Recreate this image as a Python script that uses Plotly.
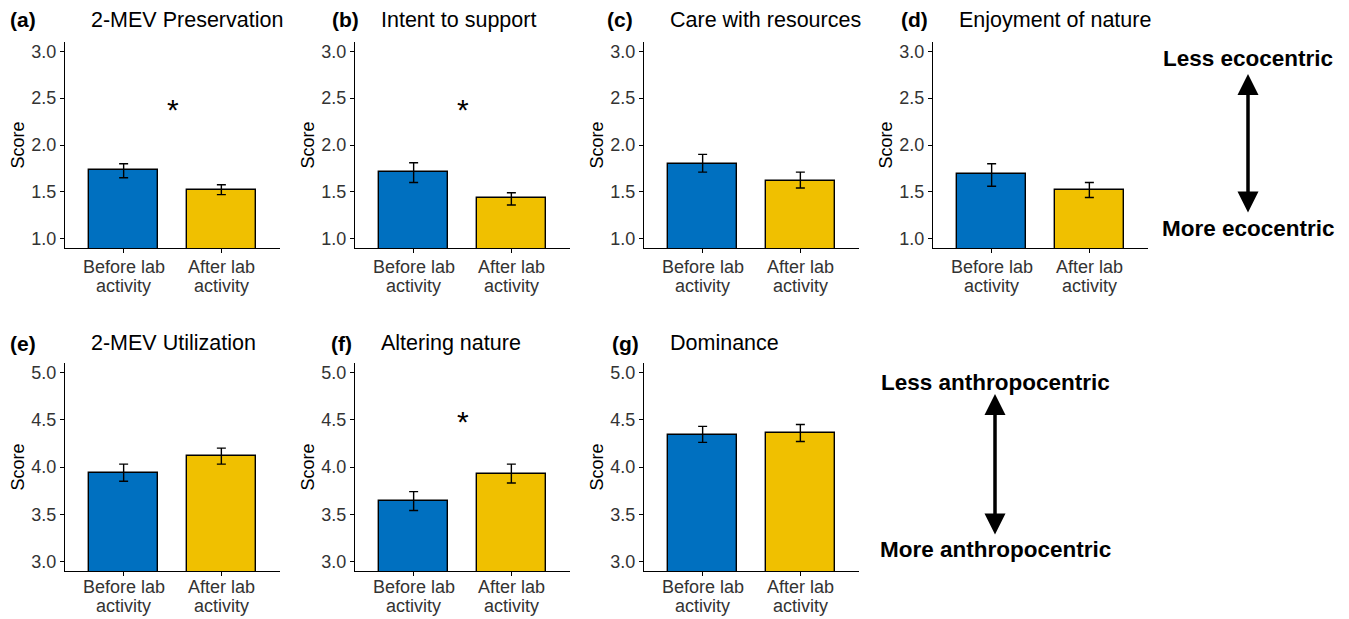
import plotly.graph_objects as go

W, H = 1349, 619

# ---------------- data ----------------
categories = [["Before lab", "activity"], ["After lab", "activity"]]
panel_tags = ["(a)", "(b)", "(c)", "(d)", "(e)", "(f)", "(g)"]
panel_titles = ["2-MEV Preservation", "Intent to support", "Care with resources",
                "Enjoyment of nature", "2-MEV Utilization", "Altering nature", "Dominance"]
before_means = [1.73, 1.71, 1.80, 1.69, 3.94, 3.64, 4.34]
before_upper = [1.80, 1.81, 1.90, 1.80, 4.03, 3.74, 4.43]
before_lower = [1.65, 1.60, 1.71, 1.56, 3.85, 3.54, 4.26]
after_means = [1.52, 1.43, 1.62, 1.52, 4.12, 3.93, 4.36]
after_upper = [1.575, 1.49, 1.71, 1.60, 4.20, 4.03, 4.45]
after_lower = [1.47, 1.36, 1.54, 1.44, 4.03, 3.83, 4.27]
significant = [True, True, False, False, False, True, False]
star_y = [2.43, 2.43, None, None, None, 4.53, None]
row1_ticks = [1.0, 1.5, 2.0, 2.5, 3.0]
row2_ticks = [3.0, 3.5, 4.0, 4.5, 5.0]

# ---------------- layout geometry (pixels) ----------------
axis_left = [65, 355, 644, 933, 65, 355, 644]
plot_w = 215
row_top = [42, 363]
row_bot = [248, 571]
label_lines_y = [[267, 286], [587, 606]]
tag_x = [8, 330, 605, 899, 8, 329, 610]
COLORS = ["#0070C0", "#F0C000"]
FONT = "Liberation Sans, Arial, sans-serif"


def px(x):
    return x / W


def py(y):
    return 1 - y / H


fig = go.Figure()
annotations = []

for i in range(7):
    row = 0 if i < 4 else 1
    n = "" if i == 0 else str(i + 1)
    xa, ya = "x" + n, "y" + n
    ticks = row1_ticks if row == 0 else row2_ticks
    means = [before_means[i], after_means[i]]
    up = [before_upper[i] - before_means[i], after_upper[i] - after_means[i]]
    dn = [before_means[i] - before_lower[i], after_means[i] - after_lower[i]]
    fig.add_trace(go.Bar(
        x=[1, 2], y=means, width=0.7,
        marker=dict(color=COLORS, line=dict(color="black", width=1.4)),
        error_y=dict(type="data", array=up, arrayminus=dn, color="black",
                     thickness=1.4, width=4.5),
        xaxis=xa, yaxis=ya, showlegend=False, hoverinfo="y"))
    xd = [px(axis_left[i]), px(axis_left[i] + plot_w)]
    yd = [py(row_bot[row]), py(row_top[row])]
    lo, hi = ticks[0], ticks[-1]
    pad = (hi - lo) * 0.05
    fig.layout["xaxis" + n] = dict(
        domain=xd, range=[0.4, 2.6], tickvals=[1, 2], showticklabels=False,
        showline=True, linecolor="black", linewidth=1.3, ticks="outside",
        ticklen=4, tickcolor="black", showgrid=False, zeroline=False,
        anchor=ya, fixedrange=True)
    fig.layout["yaxis" + n] = dict(
        domain=yd, range=[lo - pad, hi + pad], tickvals=ticks,
        ticktext=["%.1f" % t for t in ticks],
        showline=True, linecolor="black", linewidth=1.3, ticks="outside",
        ticklen=4, tickcolor="black", showgrid=False, zeroline=False,
        tickfont=dict(family=FONT, size=18, color="#333333"),
        title=dict(text="Score", font=dict(family=FONT, size=18, color="black"),
                   standoff=1),
        anchor=xa, fixedrange=True)
    # category labels (two tight lines, like ggplot lineheight 0.9)
    for k, lines in enumerate(categories):
        for j, line in enumerate(lines):
            annotations.append(dict(text=line, x=k + 1, y=py(label_lines_y[row][j]),
                                    xref=xa, yref="paper", xanchor="center", yanchor="middle",
                                    showarrow=False,
                                    font=dict(family=FONT, size=18, color="#333333")))
    tcy = 20 if row == 0 else 343
    annotations.append(dict(text="<b>" + panel_tags[i] + "</b>", x=px(tag_x[i]), y=py(tcy),
                            xref="paper", yref="paper", xanchor="left", yanchor="middle",
                            showarrow=False, font=dict(family=FONT, size=21, color="black")))
    annotations.append(dict(text=panel_titles[i], x=px(axis_left[i] + 24), y=py(tcy),
                            xref="paper", yref="paper", xanchor="left", yanchor="middle",
                            showarrow=False, font=dict(family=FONT, size=21.5, color="black")))
    if significant[i]:
        annotations.append(dict(text="*", x=1.5, y=star_y[i], xref=xa, yref=ya,
                                xanchor="center", yanchor="middle", yshift=-5,
                                showarrow=False, font=dict(family=FONT, size=30, color="black")))

# orientation guides
guides = [
    ("Less ecocentric", "More ecocentric", 1248, 58, 228, 74, 214),
    ("Less anthropocentric", "More anthropocentric", 995, 382, 549, 394, 536),
]
for top_txt, bot_txt, gx, ty, by, a_top, a_bot in guides:
    annotations.append(dict(text="<b>" + top_txt + "</b>", x=px(gx), y=py(ty), xref="paper",
                            yref="paper", xanchor="center", yanchor="middle", showarrow=False,
                            font=dict(family=FONT, size=22.5, color="black")))
    annotations.append(dict(text="<b>" + bot_txt + "</b>", x=px(gx), y=py(by), xref="paper",
                            yref="paper", xanchor="center", yanchor="middle", showarrow=False,
                            font=dict(family=FONT, size=22.5, color="black")))
    annotations.append(dict(text="", x=px(gx), y=py(a_top), ax=0, ay=a_bot - a_top,
                            xref="paper", yref="paper", axref="pixel", ayref="pixel",
                            showarrow=True, arrowhead=2, startarrowhead=2, arrowside="end+start",
                            arrowwidth=3.5, arrowsize=1.2, startarrowsize=1.2, arrowcolor="black",
                            standoff=0, startstandoff=0))

fig.update_layout(width=W, height=H, margin=dict(l=0, r=0, t=0, b=0),
                  paper_bgcolor="white", plot_bgcolor="white",
                  annotations=annotations, bargap=0, showlegend=False)

fig.write_html("out.html", config={"displayModeBar": False},
               post_script="document.body.style.margin='0';")
